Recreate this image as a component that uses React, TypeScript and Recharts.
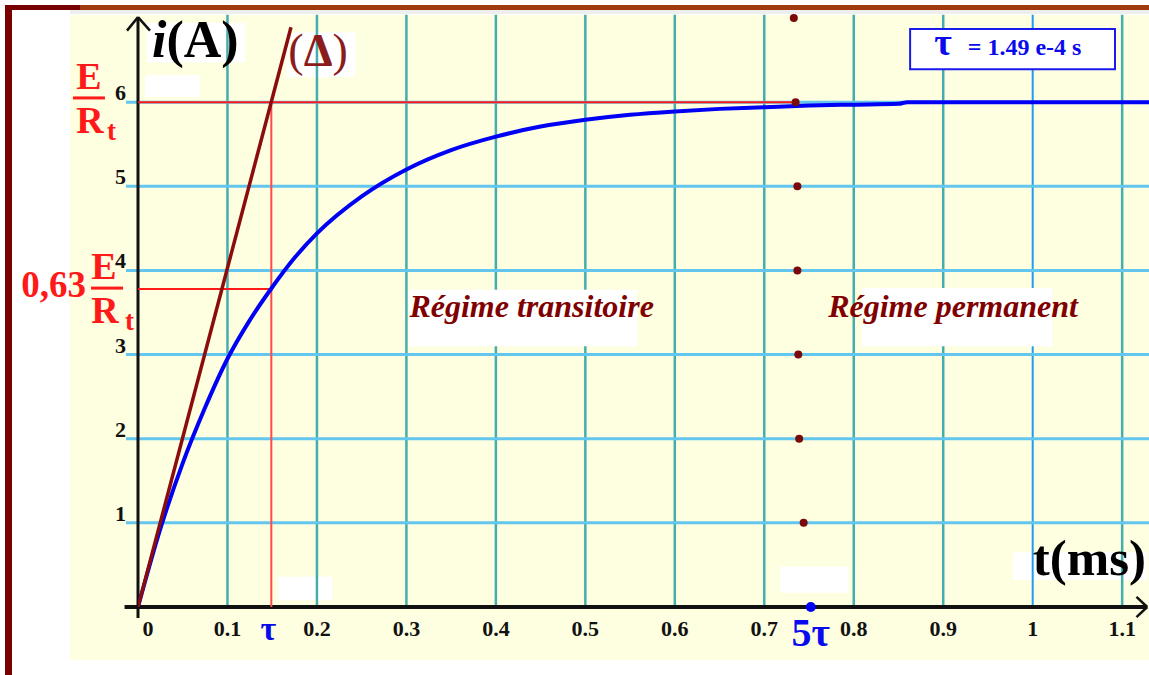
import { ComposedChart, Line, XAxis, YAxis, ReferenceLine, ReferenceDot, ReferenceArea } from 'recharts';

const SERIF = '"Liberation Serif", "Times New Roman", serif';
const RED = '#ff1a1a';
const DARK_RED = '#800000';
const BLUE = '#0a0aee';

// axes (t in ms, i in A)
const timeTicks = [0, 0.1, 0.2, 0.3, 0.4, 0.5, 0.6, 0.7, 0.8, 0.9, 1, 1.1];
const currentTicks = [1, 2, 3, 4, 5, 6];

// i(t)
const curveTimes = [0, 0.025, 0.05, 0.075, 0.1, 0.125, 0.15, 0.175, 0.2, 0.25, 0.3, 0.35, 0.4, 0.45, 0.5, 0.55, 0.6, 0.65, 0.7, 0.75, 0.8, 0.85, 0.86, 0.95, 1.05, 1.13];
const curveCurrents = [0, 0.93, 1.71, 2.37, 2.95, 3.41, 3.8, 4.15, 4.44, 4.88, 5.2, 5.43, 5.59, 5.71, 5.79, 5.85, 5.89, 5.92, 5.94, 5.96, 5.97, 5.98, 6.0, 6.0, 6.0, 6.0];

// tangent at the origin (Δ)
const tangentTimes = [0, 0.171];
const tangentCurrents = [0, 6.89];

const tau = 0.149;
const fiveTau = 0.752;
const finalCurrent = 6;
const tauCurrent = 3.78;

// dotted line at 5τ
const dotTimes = [0.733, 0.735, 0.737, 0.737, 0.738, 0.739, 0.744];
const dotCurrents = [7, 6, 5, 4, 3, 2, 1];

const curveData = curveTimes.map((t, k) => ({ t, i: curveCurrents[k] }));
const tangentData = tangentTimes.map((t, k) => ({ t, i: tangentCurrents[k] }));

const note = (key: string, t: number, i: number, draw: (x: number, y: number) => any) => (
  <ReferenceDot
    key={key}
    x={t}
    y={i}
    r={0}
    ifOverflow="visible"
    zIndex={700}
    shape={(p: any) => draw(p.cx, p.cy)}
  />
);

const seg = (key: string, x1: number, y1: number, x2: number, y2: number, stroke: string, width: number, z: number) => (
  <ReferenceLine
    key={key}
    segment={[{ x: x1, y: y1 }, { x: x2, y: y2 }]}
    stroke={stroke}
    strokeWidth={width}
    ifOverflow="visible"
    zIndex={z}
  />
);

const whiteBox = (key: string, x1: number, x2: number, y1: number, y2: number, z: number) => (
  <ReferenceArea key={key} x1={x1} x2={x2} y1={y1} y2={y2} fill="#ffffff" fillOpacity={1} stroke="none" ifOverflow="visible" zIndex={z} />
);

function XTick({ x, y, payload }: any) {
  const v = payload.value;
  return (
    <text x={x + (v === 0 ? 10 : 0)} y={y + 29} textAnchor="middle" fontFamily={SERIF} fontWeight="bold" fontSize={22} fill="#111">
      {String(v)}
    </text>
  );
}

function YTick({ x, y, payload }: any) {
  return (
    <text x={x - 12} y={y - 2} textAnchor="end" fontFamily={SERIF} fontWeight="bold" fontSize={22} fill="#111">
      {String(payload.value)}
    </text>
  );
}

function Fraction({ x, y, dx }: { x: number; y: number; dx: number }) {
  return (
    <g fontFamily={SERIF} fontWeight="bold" fill={RED}>
      <text x={x + dx} y={y - 9} textAnchor="middle" fontSize={38}>E</text>
      <rect x={x - 16} y={y - 1.5} width={32} height={3} fill={RED} />
      <text x={x + dx + 1} y={y + 35} textAnchor="middle" fontSize={38}>R</text>
      <text x={x + 18} y={y + 42} fontSize={27}>t</text>
    </g>
  );
}

export default function App() {
  return (
    <div style={{ position: 'absolute', left: 0, top: 0, width: 1149, height: 675, overflow: 'hidden', background: '#fff' }}>
      <div style={{ position: 'absolute', left: 70, top: 15, width: 1079, height: 645, background: '#fefee0' }} />
      <div style={{ position: 'absolute', left: 70, top: 10, width: 1079, height: 4, background: '#eeeeee' }} />
      <div style={{ position: 'absolute', left: 5, top: 5, width: 1144, height: 5, background: '#a03a0e' }} />
      <div style={{ position: 'absolute', left: 5, top: 5, width: 75, height: 5, background: '#780000' }} />
      <div style={{ position: 'absolute', left: 5, top: 5, width: 7, height: 670, background: '#780000' }} />
      <div style={{ position: 'absolute', left: 0, top: 0 }}>
        <ComposedChart width={1149} height={675} data={curveData} margin={{ top: 18, right: 0, left: 78, bottom: 38 }}>
          <XAxis
            dataKey="t"
            type="number"
            domain={[0, 1.13]}
            ticks={timeTicks}
            allowDataOverflow
            axisLine={false}
            tickLine={false}
            tickSize={0}
            tickMargin={0}
            height={30}
            tick={<XTick />}
          />
          <YAxis
            type="number"
            domain={[0, 7]}
            ticks={currentTicks}
            allowDataOverflow
            axisLine={false}
            tickLine={false}
            tickSize={0}
            tickMargin={0}
            width={60}
            tick={<YTick />}
          />

          {/* whitened patches of the original */}
          {whiteBox('w1', 0.01, 0.12, 6.47, 6.94, -300)}
          {whiteBox('w2', 0.008, 0.069, 6.06, 6.32, -300)}
          {whiteBox('w3', 0.166, 0.243, 6.3, 6.83, -300)}
          {whiteBox('w4', 0.157, 0.217, 0.08, 0.36, -300)}
          {whiteBox('w5', 0.718, 0.794, 0.17, 0.48, -300)}
          {whiteBox('w6', 0.978, 1.128, 0.32, 0.65, -300)}

          {/* grid */}
          {timeTicks.filter((t) => t > 0).map((t) =>
            seg('gx' + t, t, 0, t, 7.04, t === 1 ? '#1e9cf0' : '#45adad', t === 1 ? 2 : 2.5, -100)
          )}
          {currentTicks.map((v) => seg('gy' + v, -0.0134, v, 1.13, v, '#62c6ee', 3, -100))}

          {whiteBox('w7', 0.303, 0.558, 3.1, 3.77, 50)}
          {whiteBox('w8', 0.809, 1.022, 3.1, 3.79, 50)}

          {/* axes with arrows */}
          {seg('ax', -0.015, 0, 1.128, 0, '#111', 4, 100)}
          {seg('ay', 0, -0.13, 0, 7.0, '#111', 3, 100)}
          {seg('ay1', -0.0123, 6.85, 0, 7.01, '#111', 2.5, 100)}
          {seg('ay2', 0.0134, 6.85, 0, 7.01, '#111', 2.5, 100)}
          {seg('ax1', 1.116, 0.12, 1.128, 0, '#111', 2.5, 100)}
          {seg('ax2', 1.116, -0.12, 1.128, 0, '#111', 2.5, 100)}

          {/* construction lines */}
          {seg('rf', 0, finalCurrent, 0.735, finalCurrent, RED, 2, 150)}
          {seg('r63', 0, tauCurrent, tau, tauCurrent, RED, 2, 150)}
          {seg('rt', tau, 0, tau, finalCurrent, '#ff4a4a', 2, 150)}

          <Line dataKey="i" type="monotone" stroke="#0000f5" strokeWidth={4} dot={false} isAnimationActive={false} zIndex={400} />
          <Line data={tangentData} dataKey="i" type="linear" stroke="#8a0c0c" strokeWidth={3.5} dot={false} isAnimationActive={false} zIndex={450} />

          {dotTimes.map((t, k) => (
            <ReferenceDot key={'d' + k} x={t} y={dotCurrents[k]} r={4} fill="#7a0a0a" stroke="none" ifOverflow="visible" zIndex={600} />
          ))}
          <ReferenceDot x={fiveTau} y={0} r={5} fill="#0000f5" stroke="none" ifOverflow="visible" zIndex={600} />

          <ReferenceArea x1={0.863} x2={1.092} y1={6.39} y2={6.87} fill="#ffffff" fillOpacity={1} stroke="#1a1aee" strokeWidth={2} zIndex={650} />

          {note('ia', 0.0156, 6.54, (x, y) => (
            <text x={x} y={y} fontFamily={SERIF} fontWeight="bold" fontSize={52} fill="#000">
              <tspan fontStyle="italic">i</tspan>
              <tspan>(A)</tspan>
            </text>
          ))}
          {note('delta', 0.168, 6.43, (x, y) => (
            <text x={x} y={y} fontFamily={SERIF} fontSize={46} fill="#8b1c1c">
              (<tspan fontWeight="bold">Δ</tspan>)
            </text>
          ))}
          {note('frac1', -0.0548, finalCurrent + 0.05, (x, y) => <Fraction x={x} y={y} dx={0} />)}
          {note('frac2', -0.0346, tauCurrent + 0.01, (x, y) => (
            <g>
              <text x={x - 21} y={y + 9} textAnchor="end" fontFamily={SERIF} fontWeight="bold" fontSize={37} fill={RED}>0,63</text>
              <Fraction x={x} y={y} dx={-3} />
            </g>
          ))}
          {note('tau', tau, 0, (x, y) => (
            <text x={x - 3} y={y + 33} textAnchor="middle" fontFamily={SERIF} fontWeight="bold" fontSize={34} fill={BLUE}>τ</text>
          ))}
          {note('5tau', fiveTau, 0, (x, y) => (
            <text x={x} y={y + 39} textAnchor="middle" fontFamily={SERIF} fontWeight="bold" fontSize={40} fill={BLUE}>5τ</text>
          ))}
          {note('tms', 1.0, 0.38, (x, y) => (
            <text x={x} y={y} fontFamily={SERIF} fontWeight="bold" fontSize={51} fill="#000">t(ms)</text>
          ))}
          {note('rt', 0.44, 3.45, (x, y) => (
            <text x={x} y={y} textAnchor="middle" fontFamily={SERIF} fontWeight="bold" fontStyle="italic" fontSize={32} fill={DARK_RED}>
              Régime transitoire
            </text>
          ))}
          {note('rp', 0.911, 3.45, (x, y) => (
            <text x={x} y={y} textAnchor="middle" fontFamily={SERIF} fontWeight="bold" fontStyle="italic" fontSize={32} fill={DARK_RED}>
              Régime permanent
            </text>
          ))}
          {note('box', 0.89, 6.56, (x, y) => (
            <text x={x} y={y} fontFamily={SERIF} fontWeight="bold" fill={BLUE}>
              <tspan fontSize={38}>τ</tspan>
              <tspan fontSize={24} dx={16}>= 1.49 e-4 s</tspan>
            </text>
          ))}
        </ComposedChart>
      </div>
    </div>
  );
}
